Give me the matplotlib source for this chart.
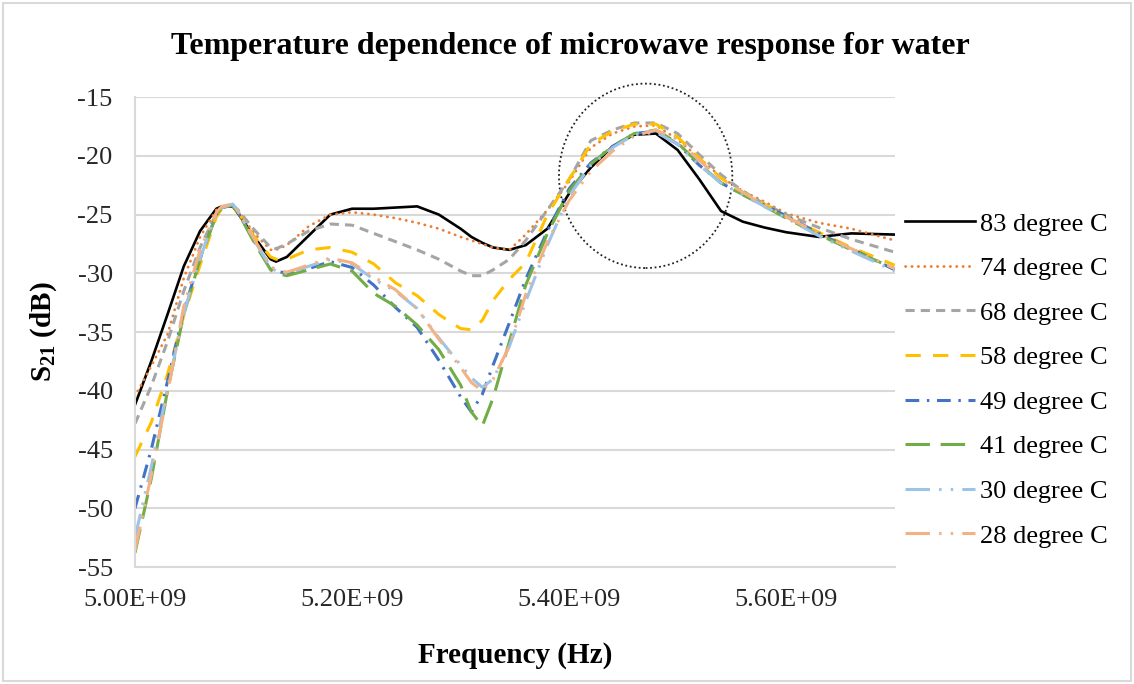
import matplotlib
matplotlib.use("Agg")
import matplotlib.pyplot as plt
from matplotlib.patches import Ellipse, Rectangle
from matplotlib.ticker import FuncFormatter, MultipleLocator

plt.rcParams['font.family'] = ['Liberation Serif', 'DejaVu Serif']
plt.rcParams['mathtext.fontset'] = 'custom'
plt.rcParams['mathtext.rm'] = 'Liberation Serif'
plt.rcParams['mathtext.bf'] = 'Liberation Serif:bold'

# frequency samples (GHz)
freq_ghz = [5.000, 5.015, 5.030, 5.045, 5.060, 5.075, 5.080, 5.090, 5.095, 5.110,
            5.125, 5.130, 5.140, 5.160, 5.180, 5.200, 5.220, 5.240, 5.260, 5.280,
            5.300, 5.310, 5.320, 5.330, 5.345, 5.360, 5.380, 5.400, 5.420, 5.440,
            5.460, 5.480, 5.500, 5.520, 5.540, 5.560, 5.580, 5.600, 5.630, 5.660,
            5.700]

# S21 in dB for each water temperature
s21_83 = [-41.2, -37.5, -33.5, -29.4, -26.4, -24.5, -24.3, -24.3, -24.9, -26.9,
          -28.8, -29.0, -28.6, -26.8, -25.0, -24.5, -24.5, -24.4, -24.3, -25.0,
          -26.2, -26.9, -27.4, -27.8, -28.0, -27.6, -26.2, -23.2, -21.0, -19.2,
          -18.2, -18.1, -19.5, -22.0, -24.7, -25.6, -26.1, -26.5, -26.9, -26.6,
          -26.7]
s21_74 = [-40.5, -37.9, -35.2, -30.4, -26.9, -24.6, -24.3, -24.2, -24.7, -26.6,
          -28.0, -28.0, -27.6, -26.0, -25.0, -24.8, -25.0, -25.3, -25.7, -26.2,
          -26.9, -27.2, -27.5, -27.8, -28.0, -26.7, -24.6, -22.2, -19.3, -18.1,
          -17.5, -17.4, -18.6, -20.2, -21.8, -23.0, -23.9, -24.9, -25.7, -26.2,
          -27.2]
s21_68 = [-42.8, -39.6, -35.8, -31.5, -27.8, -24.9, -24.4, -24.2, -24.6, -26.3,
          -27.8, -27.9, -27.5, -26.4, -25.8, -25.9, -26.6, -27.3, -28.0, -28.8,
          -29.8, -30.2, -30.2, -29.7, -28.8, -27.2, -24.6, -22.0, -18.7, -17.8,
          -17.2, -17.2, -18.1, -19.9, -21.6, -23.0, -24.1, -25.0, -26.1, -27.1,
          -28.2]
s21_58 = [-45.6, -42.7, -38.6, -33.6, -29.3, -25.2, -24.5, -24.3, -24.8, -26.9,
          -28.6, -28.8, -28.8, -28.0, -27.8, -28.2, -29.2, -30.8, -31.9, -33.5,
          -34.7, -34.8, -34.0, -32.3, -30.5, -29.1, -25.0, -22.0, -19.0, -17.9,
          -17.3, -17.3, -18.4, -20.2, -21.9, -23.1, -24.1, -25.2, -26.5, -27.8,
          -29.3]
s21_49 = [-50.0, -45.0, -39.2, -33.2, -28.7, -25.0, -24.4, -24.2, -24.8, -27.3,
          -29.5, -29.8, -30.0, -29.6, -29.0, -29.5, -31.0, -32.9, -34.6, -37.4,
          -40.5, -41.8, -40.3, -37.8, -34.2, -30.5, -26.4, -22.8, -20.6, -19.2,
          -18.1, -17.9, -19.0, -20.8, -22.3, -23.3, -24.2, -25.1, -26.6, -27.9,
          -29.7]
s21_41 = [-53.8, -47.5, -40.0, -33.5, -28.8, -25.0, -24.4, -24.2, -24.8, -27.4,
          -29.7, -30.0, -30.2, -29.7, -29.2, -29.8, -31.7, -32.8, -34.4, -36.5,
          -39.5, -41.8, -43.0, -40.6, -35.8, -31.0, -26.6, -23.0, -20.7, -19.2,
          -18.1, -17.8, -18.9, -20.7, -22.3, -23.3, -24.3, -25.3, -26.7, -28.0,
          -29.6]
s21_30 = [-52.5, -46.5, -39.8, -33.4, -28.7, -25.0, -24.4, -24.1, -24.7, -27.2,
          -29.5, -29.8, -30.0, -29.4, -28.8, -29.2, -30.5, -31.5, -33.0, -35.5,
          -37.8, -38.9, -39.7, -39.0, -36.2, -32.4, -27.6, -23.4, -20.8, -19.3,
          -18.2, -18.0, -19.0, -20.8, -22.3, -23.3, -24.3, -25.3, -26.8, -28.1,
          -29.8]
s21_28 = [-53.6, -47.2, -40.2, -32.8, -28.0, -24.8, -24.3, -24.1, -24.7, -27.1,
          -29.4, -29.7, -29.9, -29.3, -28.7, -29.1, -30.3, -31.4, -33.0, -35.6,
          -38.0, -39.3, -40.0, -39.0, -36.2, -31.8, -27.3, -23.8, -21.3, -19.6,
          -18.3, -17.8, -18.6, -20.4, -22.0, -23.1, -24.2, -25.2, -26.6, -27.9,
          -29.6]

labels = ['83 degree C', '74 degree C', '68 degree C', '58 degree C',
          '49 degree C', '41 degree C', '30 degree C', '28 degree C']
series = [s21_83, s21_74, s21_68, s21_58, s21_49, s21_41, s21_30, s21_28]

styles = [
    dict(color='black', lw=1.9, ls='-'),
    dict(color='#ED7D31', lw=2.0, ls=(0, (0.1, 2.2)), dash_capstyle='round'),
    dict(color='#A5A5A5', lw=2.2, ls=(0, (3, 2))),
    dict(color='#FFC000', lw=2.2, ls=(0, (5, 4))),
    dict(color='#4472C4', lw=2.2, ls=(0, (4.5, 2.5, 0.8, 2.5))),
    dict(color='#70AD47', lw=2.2, ls=(0, (8, 3.5))),
    dict(color='#9DC3E6', lw=2.2, ls=(0, (8, 3, 0.8, 3, 0.8, 3))),
    dict(color='#F4B183', lw=2.2, ls=(0, (8, 3, 0.8, 3, 0.8, 3))),
]

freq_hz = [f * 1e9 for f in freq_ghz]

fig = plt.figure(figsize=(11.34, 6.84), dpi=100)
ax = fig.add_axes([0.119, 0.171, 0.670, 0.687])

for vals, lab, st in zip(series, labels, styles):
    ax.plot(freq_hz, vals, label=lab, **st)

ax.set_xlim(5.0e9, 5.7e9)
ax.set_ylim(-55, -15)
ax.xaxis.set_major_locator(MultipleLocator(0.2e9))
ax.yaxis.set_major_locator(MultipleLocator(5))
ax.xaxis.set_major_formatter(FuncFormatter(lambda v, p: '%.2E' % v))
ax.yaxis.set_major_formatter(FuncFormatter(lambda v, p: '%d' % round(v)))
ax.grid(axis='y', color='#d9d9d9', lw=1.5)
ax.set_axisbelow(True)
for s in ['top', 'right']:
    ax.spines[s].set_visible(False)
for s in ['left', 'bottom']:
    ax.spines[s].set_color('#d9d9d9')
    ax.spines[s].set_linewidth(1.5)
ax.tick_params(length=0, labelsize=19, labelcolor='#262626')
ax.tick_params(axis='y', pad=16)
ax.tick_params(axis='x', pad=16)

ax.set_xlabel('Frequency (Hz)', fontsize=21, fontweight='bold', labelpad=22)
ax.set_ylabel(r'S$_{\mathbf{21}}$ (dB)', fontsize=21, fontweight='bold', labelpad=13)

# highlight around the resonance peak
ring = Ellipse((5.4705e9, -21.7), 0.1597e9, 15.7, fill=False, ls=(0, (1, 1.5)),
               lw=1.3, edgecolor='#222222', clip_on=False)
ax.add_patch(ring)

fig.suptitle('Temperature dependence of microwave response for water',
             x=0.503, y=0.932, va='center', fontsize=23, fontweight='bold')

fig.legend(loc='upper left', bbox_to_anchor=(0.798, 0.690), frameon=False,
           fontsize=19, handlelength=2.65, labelspacing=0.8, handletextpad=0.2,
           borderpad=0, borderaxespad=0)

fig.add_artist(Rectangle((0.003, 0.004), 0.994, 0.992, transform=fig.transFigure,
                         fill=False, edgecolor='#d9d9d9', lw=1.5))

fig.savefig('out.png', dpi=100)
